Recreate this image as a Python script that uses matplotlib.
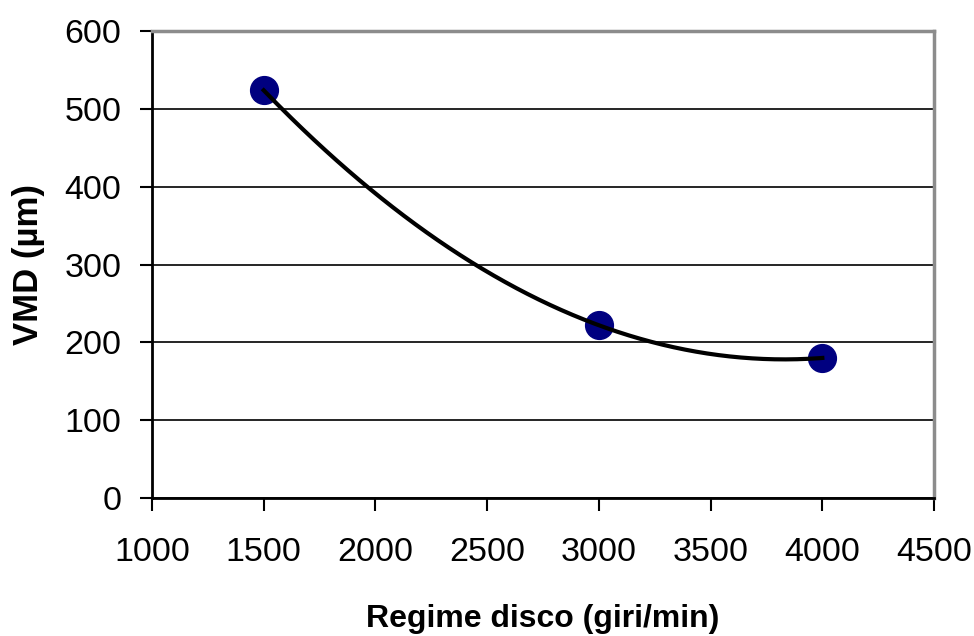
import numpy as np
import matplotlib
matplotlib.use("Agg")
import matplotlib.pyplot as plt

# Data
regime = [1500, 3000, 4000]          # giri/min
vmd = [524, 222, 180]                # µm
x_ticks = [1000, 1500, 2000, 2500, 3000, 3500, 4000, 4500]
y_ticks = [0, 100, 200, 300, 400, 500, 600]

plt.rcParams['font.family'] = ['Liberation Sans', 'DejaVu Sans']

fig = plt.figure(figsize=(9.74, 6.36), dpi=100)
ax = fig.add_axes([0.156, 0.217, 0.803, 0.734])

# Polynomial (order 2) trendline through the data points
coef = np.polyfit(regime, vmd, 2)
xs = np.linspace(min(regime), max(regime), 200)
ys = np.polyval(coef, xs)

ax.plot(regime, vmd, 'o', color='#000080', markersize=20, zorder=3)
ax.plot(xs, ys, '-', color='black', lw=3, zorder=4)

ax.set_xlim(1000, 4500)
ax.set_ylim(0, 600)
ax.set_xticks(x_ticks)
ax.set_yticks(y_ticks)
ax.yaxis.grid(True, color='black', lw=1.2)
ax.set_axisbelow(True)

for s in ['left', 'bottom']:
    ax.spines[s].set_color('black')
    ax.spines[s].set_linewidth(2)
for s in ['top', 'right']:
    ax.spines[s].set_color('#8c8c8c')
    ax.spines[s].set_linewidth(2.5)

ax.tick_params(axis='both', direction='out', length=9, width=1.5, labelsize=24.5, color='black')
ax.tick_params(axis='y', pad=13)
ax.tick_params(axis='x', pad=19)

ax.set_xlabel('Regime disco (giri/min)', fontsize=23, fontweight='bold', labelpad=26)
ax.set_ylabel('VMD (µm)', fontsize=25, fontweight='bold', labelpad=14)

fig.savefig('out.png', dpi=100)
